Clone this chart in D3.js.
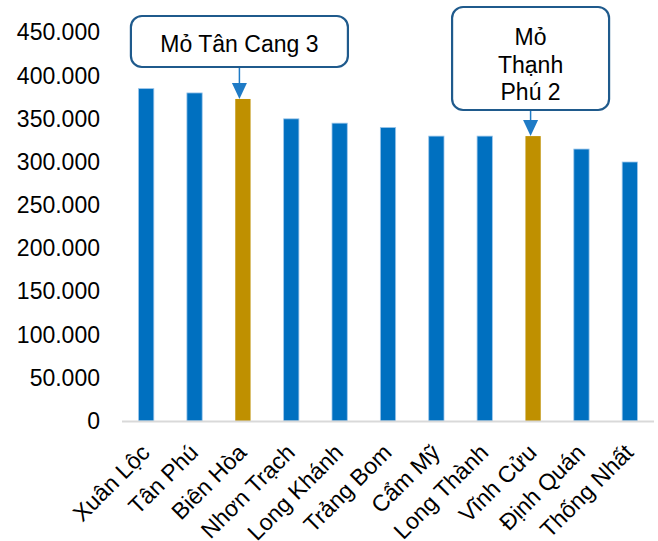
<!DOCTYPE html>
<html>
<head>
<meta charset="utf-8">
<script src="https://cdn.jsdelivr.net/npm/d3@7/dist/d3.min.js"></script>
<style>
  html, body { margin: 0; padding: 0; background: #fff; }
  svg { display: block; }
  text { font-family: Arial, "Liberation Sans", sans-serif; fill: #000; }
</style>
</head>
<body>
<svg id="chart" width="658" height="541"></svg>
<script>
// Districts (x categories) and their values
const districts = ["Xuân Lộc", "Tân Phú", "Biên Hòa", "Nhơn Trạch", "Long Khánh", "Trảng Bom",
                   "Cẩm Mỹ", "Long Thành", "Vĩnh Cửu", "Định Quán", "Thống Nhất"];
const values = [385000, 380000, 373000, 350000, 345000, 340000, 330000, 330000, 330000, 315000, 300000];
// Districts that host a highlighted mine
const highlighted = ["Biên Hòa", "Vĩnh Cửu"];
// Callouts: district and the text lines shown in the box
const calloutDistricts = ["Biên Hòa", "Vĩnh Cửu"];
const calloutLines = [["Mỏ Tân Cang 3"], ["Mỏ", "Thạnh", "Phú 2"]];
// Y axis ticks
const yTicks = [0, 50000, 100000, 150000, 200000, 250000, 300000, 350000, 400000, 450000];

const svg = d3.select("#chart");
const fontSize = 23;
const blue = "#0070C0", gold = "#BF9000";

const x = d3.scaleBand().domain(districts).range([122, 654]).paddingInner(0.684).paddingOuter(0.342);
const y = d3.scaleLinear().domain([0, 450000]).range([421, 32.5]);

const locale = d3.formatLocale({ decimal: ",", thousands: ".", grouping: [3], currency: ["", ""] });
const fmt = locale.format(",.0f");

// Y axis labels
const yAxis = svg.append("g")
  .attr("transform", "translate(100,0)")
  .call(d3.axisLeft(y).tickValues(yTicks).tickFormat(fmt).tickSize(0).tickPadding(0));
yAxis.select(".domain").remove();
yAxis.selectAll("text").attr("font-size", fontSize).attr("font-family", "Arial, 'Liberation Sans', sans-serif").attr("fill", "#000");

// Bars
const data = districts.map((d, i) => ({ name: d, value: values[i] }));
svg.append("g").selectAll("rect").data(data).join("rect")
  .attr("x", d => x(d.name))
  .attr("width", x.bandwidth())
  .attr("y", d => y(d.value))
  .attr("height", d => y(0) - y(d.value))
  .attr("fill", d => highlighted.includes(d.name) ? gold : blue)
  .attr("stroke", d => highlighted.includes(d.name) ? "none" : "#9cc6ea")
  .attr("stroke-width", 0.8);

// Category axis baseline
svg.append("line")
  .attr("x1", 122).attr("x2", 654)
  .attr("y1", y(0) + 0.5).attr("y2", y(0) + 0.5)
  .attr("stroke", "#d9d9d9").attr("stroke-width", 2);

// Rotated category labels
svg.append("g").selectAll("text").data(districts).join("text")
  .attr("transform", d => `translate(${x(d) + x.bandwidth() / 2 + 5},454) rotate(-45)`)
  .attr("text-anchor", "end")
  .attr("font-size", fontSize)
  .text(d => d);

// Callout boxes with arrows pointing at the bar tops
const boxes = [
  { dx: -3.5, top: 16, bottom: 67, w: 217, lineH: 27.5, baseline: 51.5 },
  { dx: -2.5, top: 7, bottom: 110, w: 157, lineH: 27.5, baseline: 45 }
];
calloutDistricts.forEach((name, i) => {
  const b = boxes[i];
  const cx = x(name) + x.bandwidth() / 2 + b.dx;
  const tipY = y(values[districts.indexOf(name)]);
  const g = svg.append("g");
  g.append("rect")
    .attr("x", cx - b.w / 2).attr("y", b.top)
    .attr("width", b.w).attr("height", b.bottom - b.top)
    .attr("rx", 11).attr("ry", 11)
    .attr("fill", "#fff").attr("stroke", "#1F5A8C").attr("stroke-width", 2.2);
  calloutLines[i].forEach((line, j) => {
    g.append("text")
      .attr("x", cx).attr("y", b.baseline + j * b.lineH)
      .attr("text-anchor", "middle").attr("font-size", fontSize)
      .text(line);
  });
  g.append("line")
    .attr("x1", cx).attr("x2", cx)
    .attr("y1", b.bottom + 1).attr("y2", tipY - 14)
    .attr("stroke", "#1F7BC6").attr("stroke-width", 1.5);
  g.append("path")
    .attr("d", `M${cx - 7.5},${tipY - 16} L${cx + 7.5},${tipY - 16} L${cx},${tipY} Z`)
    .attr("fill", "#1F7BC6");
});
</script>
</body>
</html>
